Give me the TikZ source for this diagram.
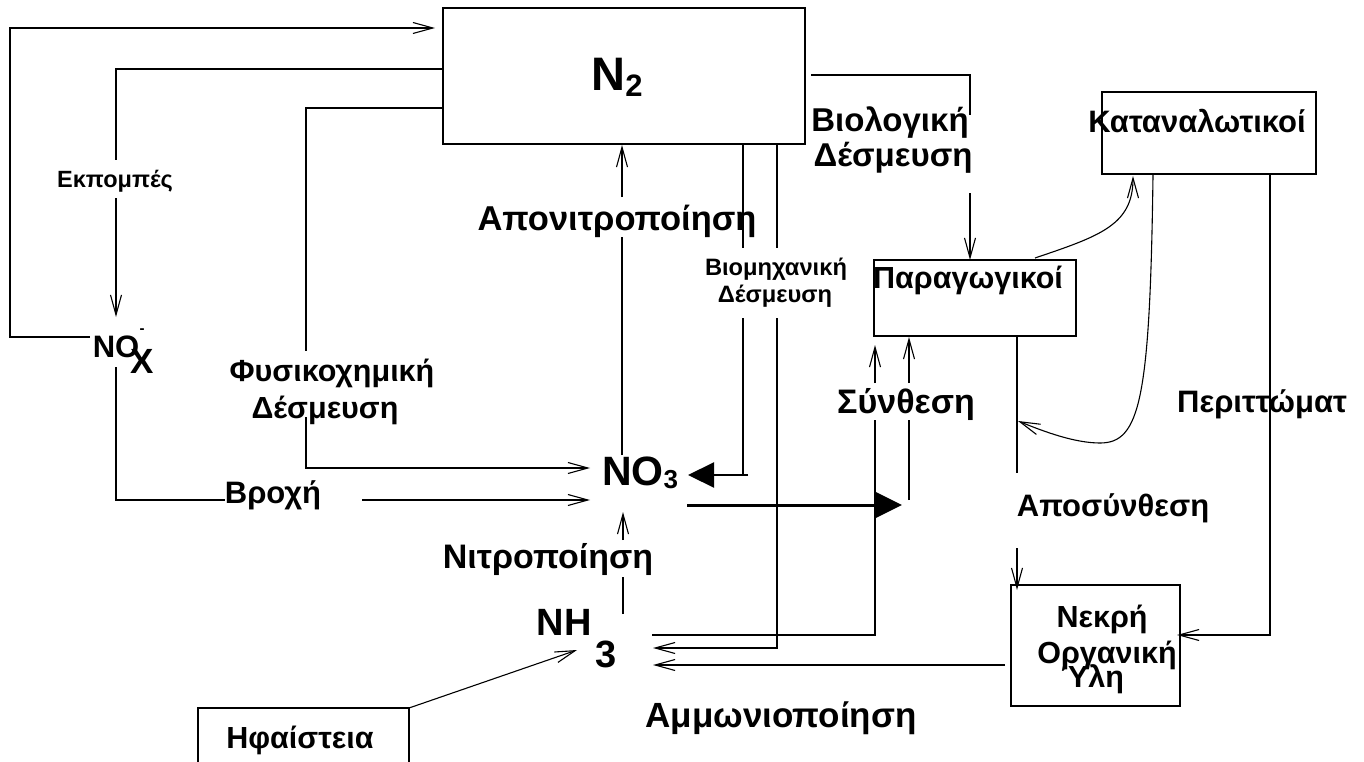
\documentclass[tikz,border=0pt]{standalone}
\usepackage{fontspec}
\setmainfont{Liberation Sans}
\usetikzlibrary{arrows.meta,calc}
\tikzset{
  ln/.style={line width=1.1pt},
  arr/.style={line width=1.1pt,-{Straight Barb[length=20pt,width=11pt,line width=1.1pt]}},
  fatarr/.style={-{Triangle[length=26pt,width=25pt]}},
  box/.style={draw,line width=2.2pt,inner sep=0pt,outer sep=0pt},
  fsz/.style={font=\bfseries\fontsize{#1}{#1}\selectfont},
  lbl/.style={inner sep=0pt,outer sep=0pt,anchor=base},
}
\begin{document}
\begin{tikzpicture}[x=1pt,y=-1pt]
\useasboundingbox[fill=white] (0,0) rectangle (1364,762);

% boxes
\node[box,minimum width=362,minimum height=136] (n2) at (624,76) {};
\node[box,minimum width=214,minimum height=82] (kat) at (1209,133) {};
\node[box,minimum width=202,minimum height=76] (par) at (975,298) {};
\node[box,minimum width=169,minimum height=121] (nek) at (1095.5,645.5) {};
\node[box,minimum width=211,minimum height=90] (hfa) at (303.5,753) {};

% species
\node[lbl,fsz=47] (n2t) at (617,91) {N\raisebox{-6pt}{\fontsize{31}{31}\selectfont 2}};
\node[lbl,fsz=31] (nox) at (116,357) {NO};
\node[lbl,fsz=35] (noxx) at (142,373) {X};
\node[inner sep=0pt,fsz=15] (noxm) at (142,331) {-};
\node[lbl,fsz=41] (no3) at (640,485) {NO\raisebox{-3pt}{\fontsize{26}{26}\selectfont 3}};
\node[lbl,fsz=38] (nh3) at (564,635) {NH};
\node[lbl,fsz=38] (nh3b) at (606.5,667) {3};

% box texts
\node[lbl,fsz=31] (katt) at (1197,133) {Καταναλωτικοί};
\node[lbl,fsz=30.5] (part) at (968,288) {Παραγωγικοί};
\node[lbl,fsz=30.5] (nek1) at (1102,627) {Νεκρή};
\node[lbl,fsz=30.5] (nek2) at (1107,663) {Οργανική};
\node[lbl,fsz=30.5] (nek3) at (1092,687) {Ύλη};
\node[lbl,fsz=30.5] (hfat) at (300,748) {Ηφαίστεια};

% process labels
\node[lbl,fsz=23.5] (ek) at (115,187) {Εκπομπές};
\node[lbl,fsz=30.5] (fys1) at (332,381) {Φυσικοχημική};
\node[lbl,fsz=30.5] (fys2) at (325,418) {Δέσμευση};
\node[lbl,fsz=31] (broh) at (273,503) {Βροχή};
\node[lbl,fsz=34.5] (apo) at (617,230) {Απονιτροποίηση};
\node[lbl,fsz=23.7] (bio1) at (776,275) {Βιομηχανική};
\node[lbl,fsz=23.7] (bio2) at (775,302) {Δέσμευση};
\node[lbl,fsz=33] (biol1) at (890,132) {Βιολογική};
\node[lbl,fsz=33] (biol2) at (893,167) {Δέσμευση};
\node[lbl,fsz=34] (syn) at (906,413) {Σύνθεση};
\node[lbl,fsz=31] (per) at (1262,412) {Περιττώματ};
\node[lbl,fsz=31] (aps) at (1113,516) {Αποσύνθεση};
\node[lbl,fsz=34] (nit) at (548,568) {Νιτροποίηση};
\node[lbl,fsz=35] (amm) at (781,727) {Αμμωνιοποίηση};

% bend and gap points
\coordinate (o1) at (10,337);
\coordinate (o2) at (10,28);
\coordinate (e1) at (116,69);
\coordinate (e2) at (116,160);
\coordinate (e3) at (116,198);
\coordinate (e4) at (116,317);
\coordinate (f1) at (306,108);
\coordinate (f2) at (306,351);
\coordinate (f3) at (306,417);
\coordinate (f4) at (306,468);
\coordinate (r0) at (116,367);
\coordinate (r1) at (116,500);
\coordinate (r2) at (362,500);
\coordinate (a1) at (622,455);
\coordinate (a2) at (622,237);
\coordinate (a3) at (622,197);
\coordinate (i1) at (743,248);
\coordinate (i2) at (743,318);
\coordinate (i3) at (743,475);
\coordinate (i4) at (748,475);
\coordinate (i5) at (688,475);
\coordinate (j1) at (777,248);
\coordinate (j2) at (777,318);
\coordinate (j3) at (777,648);
\coordinate (j4) at (653,648);
\coordinate (t1) at (687,505);
\coordinate (t2) at (902,505);
\coordinate (s1) at (909,500);
\coordinate (s2) at (909,420);
\coordinate (s3) at (909,383);
\coordinate (s4) at (909,337);
\coordinate (h1) at (652,635);
\coordinate (h2) at (875,635);
\coordinate (h3) at (875,420);
\coordinate (h4) at (875,383);
\coordinate (h5) at (875,345);
\coordinate (n1) at (623,614);
\coordinate (n3) at (623,577);
\coordinate (n4) at (623,540);
\coordinate (n5) at (623,512);
\coordinate (v1) at (577,650);
\coordinate (m1) at (1005,665);
\coordinate (m2) at (653,665);
\coordinate (b1) at (811,75);
\coordinate (b2) at (970,75);
\coordinate (b3) at (970,115);
\coordinate (b4) at (970,193);
\coordinate (p1) at (1035,258);
\coordinate (p2) at (1133,176);
\coordinate (k1) at (1153,175);
\coordinate (k2) at (1100,443);
\coordinate (k3) at (1018,421);
\coordinate (d1) at (1017,337);
\coordinate (d2) at (1017,473);
\coordinate (d3) at (1017,548);
\coordinate (d4) at (1017,590);
\coordinate (q1) at (1270,175);
\coordinate (q2) at (1270,635);
\coordinate (q3) at (1177,635);

% connectors
\draw[arr,shorten <=3pt,shorten >=8pt] (o1 -| nox.west) -- (o1) -- (o2) -- (o2 -| n2.west);
\draw[ln] (e1 -| n2.west) -- (e1) -- (e2);
\draw[arr] (e3) -- (e4);
\draw[ln] (f1 -| n2.west) -- (f1) -- (f2);
\draw[arr] (f3) -- (f4) -- ([xshift=-12pt]f4 -| no3.west);
\draw[ln] (r0) -- (r1) -- (r1 -| broh.west);
\draw[arr] (r2) -- ([xshift=-12pt]r2 -| no3.west);
\draw[ln] (a1) -- (a2);
\draw[arr,shorten >=1pt] (a3) -- (a3 |- n2.south);
\draw[ln] (i1 |- n2.south) -- (i1);
\draw[ln] (i2) -- (i3);
\draw[line width=2.2pt,fatarr] (i4) -- (i5);
\draw[ln] (j1 |- n2.south) -- (j1);
\draw[arr] (j2) -- (j3) -- (j4);
\draw[line width=3pt,fatarr] (t1) -- (t2);
\draw[ln] (s1) -- (s2);
\draw[arr] (s3) -- (s4);
\draw[ln] (h1) -- (h2) -- (h3);
\draw[arr] (h4) -- (h5);
\draw[ln] (n1) -- (n3);
\draw[arr] (n4) -- (n5);
\draw[arr] (hfa.north east) -- (v1);
\draw[arr] (m1) -- (m2);
\draw[ln] (b1) -- (b2) -- (b3);
\draw[arr] (b4) -- (b4 |- par.north);
\draw[arr] (p1) .. controls (1100,236) and (1133,225) .. (p2);
\draw[ln] (k1) .. controls (1150,400) and (1140,443) .. (k2);
\draw[arr] (k2) .. controls (1075,443) and (1045,432) .. (k3);
\draw[ln] (d1) -- (d2);
\draw[arr] (d3) -- (d4);
\draw[arr] (q1) -- (q2) -- (q3);
\end{tikzpicture}
\end{document}
